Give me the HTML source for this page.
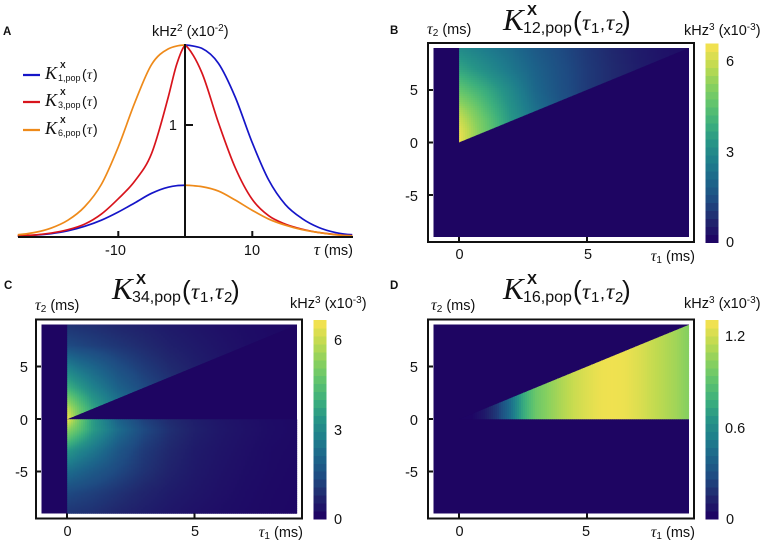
<!DOCTYPE html>
<html lang="en">
<head>
<meta charset="utf-8">
<title>Population cumulants</title>
<style>
html,body{margin:0;padding:0;background:#fff;}
#fig{display:block;font-size:14.5px;}
text{font-family:"Liberation Sans",sans-serif;fill:#111;}
.serif{font-family:"Liberation Serif","DejaVu Serif",serif;font-style:italic;}
.letter{font-weight:bold;font-size:11.5px;}
.frame{fill:none;stroke:#111;stroke-width:2;}
.tick{stroke:#111;stroke-width:2;}
</style>
</head>
<body>
<svg id="fig" width="764" height="542" viewBox="0 0 764 542" xmlns="http://www.w3.org/2000/svg">
  <rect width="764" height="542" fill="#fff"/>
  <defs id="clipDefs"></defs>

  <!-- Panel A -->
  <g id="panelA">
    <text class="letter" x="3" y="35">A</text>
    <text x="152" y="36">kHz<tspan dy="-5" font-size="10">2</tspan><tspan dy="5"> (x10</tspan><tspan dy="-5" font-size="10">-2</tspan><tspan dy="5">)</tspan></text>
    <g id="curvesA"></g>
    <line class="tick" x1="18" x2="353" y1="237" y2="237"/>
    <line class="tick" x1="185" x2="185" y1="44" y2="238"/>
    <line class="tick" x1="118.3" x2="118.3" y1="231" y2="237"/>
    <line class="tick" x1="252.3" x2="252.3" y1="231" y2="237"/>
    <line class="tick" x1="185" x2="193" y1="125" y2="125"/>
    <text x="177" y="130" text-anchor="end">1</text>
    <text x="115.5" y="255" text-anchor="middle">-10</text>
    <text x="252" y="255" text-anchor="middle">10</text>
    <text x="353" y="255" text-anchor="end"><tspan class="serif" font-size="17">τ</tspan> (ms)</text>
    <g>
      <line x1="23" x2="40" y1="75" y2="75" stroke="#1515c8" stroke-width="2.2"/>
      <line x1="23" x2="40" y1="102" y2="102" stroke="#d8141c" stroke-width="2.2"/>
      <line x1="23" x2="40" y1="130" y2="130" stroke="#ee8a1a" stroke-width="2.2"/>
      <g transform="translate(45,79)">
        <text class="serif" font-size="18" y="0">K</text><text font-weight="bold" font-size="8.5" x="15" y="-11">X</text><text font-size="9" x="13" y="2">1,pop</text><text font-size="14" x="37" y="0">(</text><text class="serif" font-size="14" x="42" y="0">τ</text><text font-size="14" x="48" y="0">)</text>
      </g>
      <g transform="translate(45,106)">
        <text class="serif" font-size="18" y="0">K</text><text font-weight="bold" font-size="8.5" x="15" y="-11">X</text><text font-size="9" x="13" y="2">3,pop</text><text font-size="14" x="37" y="0">(</text><text class="serif" font-size="14" x="42" y="0">τ</text><text font-size="14" x="48" y="0">)</text>
      </g>
      <g transform="translate(45,134)">
        <text class="serif" font-size="18" y="0">K</text><text font-weight="bold" font-size="8.5" x="15" y="-11">X</text><text font-size="9" x="13" y="2">6,pop</text><text font-size="14" x="37" y="0">(</text><text class="serif" font-size="14" x="42" y="0">τ</text><text font-size="14" x="48" y="0">)</text>
      </g>
    </g>
  </g>

  <!-- Panel B -->
  <g>
    <text class="letter" x="390" y="34">B</text>
    <g>
      <text class="serif" font-size="31" x="503" y="30">K</text>
      <text font-weight="bold" font-size="15" x="527" y="15">X</text>
      <text font-size="16" x="523" y="33">12,pop</text>
      <text font-size="26" x="573" y="30">(</text>
      <text class="serif" font-size="23" x="582" y="30">τ</text><text font-size="15" x="591" y="33">1</text>
      <text font-size="18" x="600" y="30">,</text>
      <text class="serif" font-size="23" x="606" y="30">τ</text><text font-size="15" x="615" y="33">2</text>
      <text font-size="26" x="622" y="30">)</text>
    </g>
    <text x="427" y="34"><tspan class="serif" font-size="16">τ</tspan><tspan font-size="10" dy="2">2</tspan><tspan dy="-2"> (ms)</tspan></text>
    <text x="684" y="35">kHz<tspan dy="-5" font-size="10">3</tspan><tspan dy="5"> (x10</tspan><tspan dy="-5" font-size="10">-3</tspan><tspan dy="5">)</tspan></text>
    <rect x="433.5" y="48" width="255.5" height="189" fill="#1e0562"/>
    <g id="heatB" shape-rendering="crispEdges"></g>
    <rect class="frame" x="428" y="43" width="266" height="199"/>
    <line class="tick" x1="459" x2="459" y1="237" y2="242"/>
    <line class="tick" x1="587" x2="587" y1="237" y2="242"/>
    <line class="tick" x1="428" x2="433" y1="90" y2="90"/>
    <line class="tick" x1="428" x2="433" y1="142.5" y2="142.5"/>
    <line class="tick" x1="428" x2="433" y1="195" y2="195"/>
    <text x="418" y="95" text-anchor="end">5</text>
    <text x="418" y="148" text-anchor="end">0</text>
    <text x="418" y="201" text-anchor="end">-5</text>
    <text x="459.5" y="259" text-anchor="middle">0</text>
    <text x="588" y="259" text-anchor="middle">5</text>
    <text x="695" y="261" text-anchor="end"><tspan class="serif" font-size="16">τ</tspan><tspan font-size="10" dy="2">1</tspan><tspan dy="-2"> (ms)</tspan></text>
    <g id="barB" shape-rendering="crispEdges"></g>
    <text x="726" y="66">6</text>
    <text x="726" y="157">3</text>
    <text x="726" y="247">0</text>
  </g>

  <!-- Panel C -->
  <g>
    <text class="letter" x="4" y="289">C</text>
    <g transform="translate(-391,269)">
      <text class="serif" font-size="31" x="503" y="30">K</text>
      <text font-weight="bold" font-size="15" x="527" y="15">X</text>
      <text font-size="16" x="523" y="33">34,pop</text>
      <text font-size="26" x="573" y="30">(</text>
      <text class="serif" font-size="23" x="582" y="30">τ</text><text font-size="15" x="591" y="33">1</text>
      <text font-size="18" x="600" y="30">,</text>
      <text class="serif" font-size="23" x="606" y="30">τ</text><text font-size="15" x="615" y="33">2</text>
      <text font-size="26" x="622" y="30">)</text>
    </g>
    <text x="35" y="310"><tspan class="serif" font-size="16">τ</tspan><tspan font-size="10" dy="2">2</tspan><tspan dy="-2"> (ms)</tspan></text>
    <text x="290" y="308">kHz<tspan dy="-5" font-size="10">3</tspan><tspan dy="5"> (x10</tspan><tspan dy="-5" font-size="10">-3</tspan><tspan dy="5">)</tspan></text>
    <rect x="41.5" y="324.5" width="255.5" height="189" fill="#1e0562"/>
    <g id="heatC" shape-rendering="crispEdges"></g>
    <rect class="frame" x="36" y="319.5" width="266" height="199"/>
    <line class="tick" x1="67" x2="67" y1="513.5" y2="518.5"/>
    <line class="tick" x1="194.5" x2="194.5" y1="513.5" y2="518.5"/>
    <line class="tick" x1="36" x2="41" y1="366.5" y2="366.5"/>
    <line class="tick" x1="36" x2="41" y1="419" y2="419"/>
    <line class="tick" x1="36" x2="41" y1="471.5" y2="471.5"/>
    <text x="28" y="372" text-anchor="end">5</text>
    <text x="28" y="425" text-anchor="end">0</text>
    <text x="28" y="477" text-anchor="end">-5</text>
    <text x="67.5" y="536" text-anchor="middle">0</text>
    <text x="195" y="536" text-anchor="middle">5</text>
    <text x="303" y="537" text-anchor="end"><tspan class="serif" font-size="16">τ</tspan><tspan font-size="10" dy="2">1</tspan><tspan dy="-2"> (ms)</tspan></text>
    <g id="barC" shape-rendering="crispEdges"></g>
    <text x="334" y="345">6</text>
    <text x="334" y="435">3</text>
    <text x="334" y="524">0</text>
  </g>

  <!-- Panel D -->
  <g>
    <text class="letter" x="390" y="289">D</text>
    <g transform="translate(0,269)">
      <text class="serif" font-size="31" x="503" y="30">K</text>
      <text font-weight="bold" font-size="15" x="527" y="15">X</text>
      <text font-size="16" x="523" y="33">16,pop</text>
      <text font-size="26" x="573" y="30">(</text>
      <text class="serif" font-size="23" x="582" y="30">τ</text><text font-size="15" x="591" y="33">1</text>
      <text font-size="18" x="600" y="30">,</text>
      <text class="serif" font-size="23" x="606" y="30">τ</text><text font-size="15" x="615" y="33">2</text>
      <text font-size="26" x="622" y="30">)</text>
    </g>
    <text x="431" y="310"><tspan class="serif" font-size="16">τ</tspan><tspan font-size="10" dy="2">2</tspan><tspan dy="-2"> (ms)</tspan></text>
    <text x="684" y="308">kHz<tspan dy="-5" font-size="10">3</tspan><tspan dy="5"> (x10</tspan><tspan dy="-5" font-size="10">-3</tspan><tspan dy="5">)</tspan></text>
    <rect x="433.5" y="324.5" width="255.5" height="189" fill="#1e0562"/>
    <g id="heatD" shape-rendering="crispEdges"></g>
    <rect class="frame" x="428" y="319.5" width="266" height="199"/>
    <line class="tick" x1="459" x2="459" y1="513.5" y2="518.5"/>
    <line class="tick" x1="587" x2="587" y1="513.5" y2="518.5"/>
    <line class="tick" x1="428" x2="433" y1="366.5" y2="366.5"/>
    <line class="tick" x1="428" x2="433" y1="419" y2="419"/>
    <line class="tick" x1="428" x2="433" y1="471.5" y2="471.5"/>
    <text x="418" y="372" text-anchor="end">5</text>
    <text x="418" y="425" text-anchor="end">0</text>
    <text x="418" y="477" text-anchor="end">-5</text>
    <text x="459.5" y="536" text-anchor="middle">0</text>
    <text x="586" y="536" text-anchor="middle">5</text>
    <text x="695" y="537" text-anchor="end"><tspan class="serif" font-size="16">τ</tspan><tspan font-size="10" dy="2">1</tspan><tspan dy="-2"> (ms)</tspan></text>
    <g id="barD" shape-rendering="crispEdges"></g>
    <text x="725" y="341">1.2</text>
    <text x="725" y="433">0.6</text>
    <text x="726" y="524">0</text>
  </g>
</svg>
<script>
/* ---------- Panel A data (units of 1e-2 kHz^2) ---------- */
var tauLeft = [-25,-22.5,-20,-17.5,-15,-12.5,-10,-7.5,-5,-2.5,-1.25,0];
var tauRight = [0,1.25,2.5,5,7.5,10,12.5,15,17.5,20,22.5,25];
var blueLeft = [0.008,0.016,0.03,0.055,0.095,0.15,0.222,0.305,0.39,0.445,0.458,0.462];
var blueRight = [1.714,1.705,1.685,1.55,1.25,0.85,0.51,0.29,0.165,0.085,0.04,0.02];
var redLeft = [0.01,0.018,0.035,0.065,0.115,0.205,0.34,0.5,0.745,1.25,1.54,1.714];
var redRight = [1.714,1.62,1.47,1.02,0.62,0.34,0.19,0.115,0.07,0.04,0.022,0.012];
var orangeLeft = [0.02,0.04,0.08,0.15,0.27,0.47,0.8,1.2,1.54,1.68,1.705,1.714];
var orangeRight = [0.462,0.458,0.45,0.41,0.33,0.24,0.16,0.105,0.065,0.04,0.02,0.01];

/* ---------- Panel B data ---------- */
var bTau1 = [0,0.5,1,2,3,4,5,6,7,8,9];
var bTau2 = [0,1,2,3,5,7,9];
var bValues = [
  [6.6,5.6,4.6,3.2,2.2,1.5,1.0,0.7,0.45,0.3,0.15],
  [6.5,5.7,4.9,3.5,2.4,1.6,1.1,0.75,0.48,0.3,0.15],
  [6.2,5.5,4.8,3.4,2.4,1.6,1.1,0.75,0.48,0.3,0.15],
  [5.8,5.2,4.5,3.3,2.3,1.55,1.05,0.72,0.46,0.3,0.15],
  [4.7,4.3,3.9,3.0,2.05,1.45,1.0,0.7,0.45,0.28,0.15],
  [3.7,3.4,3.1,2.5,1.9,1.4,1.0,0.7,0.45,0.27,0.15],
  [3.0,2.8,2.6,2.2,1.7,1.3,0.95,0.65,0.42,0.25,0.15]
];

/* ---------- Panel C data ---------- */
var cTau1 = [0,0.5,1,2,3,4,5,6,7,8,9];
var cTau2 = [-9,-7,-5,-3,-1,0,1,2,3,5,7,9];
var cValues = [
  [0.9,0.85,0.8,0.6,0.45,0.32,0.22,0.15,0.1,0.06,0.03],
  [1.3,1.2,1.1,0.85,0.6,0.42,0.3,0.2,0.12,0.07,0.04],
  [2.2,1.95,1.7,1.25,0.85,0.55,0.36,0.24,0.15,0.09,0.05],
  [3.4,2.9,2.5,1.6,1.0,0.65,0.4,0.28,0.18,0.1,0.07],
  [5.4,4.5,3.5,2.2,1.3,0.8,0.5,0.33,0.22,0.13,0.08],
  [6.6,4.9,3.5,1.9,1.1,0.7,0.45,0.3,0.2,0.12,0.08],
  [6.0,4.7,3.7,2.4,1.6,1.1,0.7,0.45,0.3,0.2,0.12],
  [5.0,4.1,3.3,2.2,1.6,1.1,0.7,0.45,0.3,0.2,0.12],
  [4.0,3.4,2.8,1.9,1.3,0.9,0.6,0.4,0.28,0.18,0.1],
  [2.7,2.3,2.0,1.4,1.0,0.7,0.48,0.32,0.2,0.13,0.08],
  [1.3,1.2,1.1,0.9,0.7,0.5,0.38,0.26,0.16,0.1,0.06],
  [0.85,0.8,0.75,0.6,0.5,0.38,0.28,0.2,0.13,0.08,0.05]
];

/* ---------- Panel D data ---------- */
var dTau1 = [0,0.5,1,1.5,2,2.5,3,3.5,4,4.5,5,5.5,6,6.5,7,7.5,8,8.5,9];
var dTau2 = [0,9];
var dProfile = [0,0,0.07,0.2,0.43,0.75,0.95,1.05,1.13,1.2,1.25,1.29,1.3,1.29,1.25,1.2,1.15,1.1,1.03];
var dValues = [dProfile,dProfile];

/* ---------- Colour scale ---------- */
var cmapPos = [0,0.1,0.2,0.3,0.4,0.5,0.6,0.7,0.8,0.9,1];
var cmapR = [30,32,30,28,30,38,60,95,135,190,240];
var cmapG = [5,40,75,100,125,148,175,195,208,218,225];
var cmapB = [100,110,130,138,140,135,125,110,95,80,80];

var SVGNS = 'http://www.w3.org/2000/svg';
function colorAt(f){
  f = Math.max(0,Math.min(1,f));
  var i = Math.min(cmapPos.length-2,Math.floor(f*(cmapPos.length-1)));
  var t = (f-cmapPos[i])/(cmapPos[i+1]-cmapPos[i]);
  var r = cmapR[i]+(cmapR[i+1]-cmapR[i])*t;
  var g = cmapG[i]+(cmapG[i+1]-cmapG[i])*t;
  var b = cmapB[i]+(cmapB[i+1]-cmapB[i])*t;
  return 'rgb('+Math.round(r)+','+Math.round(g)+','+Math.round(b)+')';
}

/* ---------- Panel A drawing ---------- */
function xA(t){return 185+6.69*t;}
function yA(v){return 237-112*v;}
function smoothPath(xs,ys){
  var n=xs.length,i,d=[],m=[];
  for(i=0;i<n-1;i++){d[i]=(ys[i+1]-ys[i])/(xs[i+1]-xs[i]);}
  m[0]=d[0]*0.5;m[n-1]=d[n-2]*0.5;
  for(i=1;i<n-1;i++){
    var h0=xs[i]-xs[i-1],h1=xs[i+1]-xs[i];
    m[i]=d[i-1]*d[i]<=0?0:(d[i-1]*h1+d[i]*h0)/(h0+h1);
  }
  var p='M'+xs[0].toFixed(2)+' '+ys[0].toFixed(2);
  for(i=0;i<n-1;i++){
    var h=(xs[i+1]-xs[i])/3;
    p+='C'+(xs[i]+h).toFixed(2)+' '+(ys[i]+m[i]*h).toFixed(2)+' '+(xs[i+1]-h).toFixed(2)+' '+(ys[i+1]-m[i+1]*h).toFixed(2)+' '+xs[i+1].toFixed(2)+' '+ys[i+1].toFixed(2);
  }
  return p;
}
function addCurve(taus,vals,color,name){
  var path=document.createElementNS(SVGNS,'path');
  path.setAttribute('d',smoothPath(taus.map(xA),vals.map(yA)));
  path.setAttribute('fill','none');
  path.setAttribute('stroke',color);
  path.setAttribute('stroke-width','1.7');
  
  
  document.getElementById('curvesA').appendChild(path);
}
addCurve(tauLeft,blueLeft,'#1515c8','curve-1-left');
addCurve(tauRight,blueRight,'#1515c8','curve-1-right');
addCurve(tauLeft,redLeft,'#d8141c','curve-3-left');
addCurve(tauRight,redRight,'#d8141c','curve-3-right');
addCurve(tauLeft,orangeLeft,'#ee8a1a','curve-6-left');
addCurve(tauRight,orangeRight,'#ee8a1a','curve-6-right');

/* ---------- Heatmap drawing ---------- */
var SX=25.55,SY=10.5;
function locate(arr,v){
  var i=0;
  while(i<arr.length-2&&v>arr[i+1]){i++;}
  var t=(v-arr[i])/(arr[i+1]-arr[i]);
  return [i,Math.max(0,Math.min(1,t))];
}
function sample(xs,ys,grid,a,b){
  var p=locate(xs,a),q=locate(ys,b);
  var r0=grid[q[0]],r1=grid[q[0]+1];
  var top=r0[p[0]]+(r0[p[0]+1]-r0[p[0]])*p[1];
  var bot=r1[p[0]]+(r1[p[0]+1]-r1[p[0]])*p[1];
  return top+(bot-top)*q[1];
}
function addClip(id,x0,y0,polys){
  var cp=document.createElementNS(SVGNS,'clipPath');
  cp.setAttribute('id',id);
  polys.forEach(function(poly){
    var el=document.createElementNS(SVGNS,'polygon');
    el.setAttribute('points',poly.map(function(q){return (x0+q[0]*SX).toFixed(2)+','+(y0-q[1]*SY).toFixed(2);}).join(' '));
    cp.appendChild(el);
  });
  document.getElementById('clipDefs').appendChild(cp);
}
function drawHeat(id,x0,y0,xs,ys,grid,vmax,polys,inside,name){
  var g=document.getElementById(id);
  addClip(id+'Clip',x0,y0,polys);
  g.setAttribute('clip-path','url(#'+id+'Clip)');
  var step=2;
  for(var py=y0-9*SY;py<y0+9*SY;py+=step){
    for(var px=x0;px<x0+9*SX;px+=step){
      var a=(px+step/2-x0)/SX,b=(y0-py-step/2)/SY;
      if(!inside(a,b)){continue;}
      var v=sample(xs,ys,grid,Math.max(0,a),b);
      var r=document.createElementNS(SVGNS,'rect');
      r.setAttribute('x',px.toFixed(1));
      r.setAttribute('y',py.toFixed(1));
      r.setAttribute('width',step+0.4);
      r.setAttribute('height',step+0.4);
      r.setAttribute('fill',colorAt(v/vmax));
      
      
      g.appendChild(r);
    }
  }
}
function drawBar(id,x,y,w,h,name){
  var g=document.getElementById(id),levels=25;
  for(var i=0;i<levels;i++){
    var r=document.createElementNS(SVGNS,'rect');
    r.setAttribute('x',x);
    r.setAttribute('y',(y+h-(i+1)*h/levels).toFixed(2));
    r.setAttribute('width',w);
    r.setAttribute('height',(h/levels+0.5).toFixed(2));
    r.setAttribute('fill',colorAt(i/(levels-1)));
    
    
    g.appendChild(r);
  }
}
drawHeat('heatB',459.1,142.4,bTau1,bTau2,bValues,6.6,[[[0,0],[9,9],[0,9]]],function(a,b){return b>=a-0.4;},'heatmap-cell-b');
drawHeat('heatC',67.2,419.2,cTau1,cTau2,cValues,6.6,[[[0,0],[9,9],[0,9]],[[0,0],[9,0],[9,-9],[0,-9]]],function(a,b){return b>=a-0.4||b<0.3;},'heatmap-cell-c');
drawHeat('heatD',459.1,419.2,dTau1,dTau2,dValues,1.3,[[[0,0],[9,9],[9,0]]],function(a,b){return b<=a+0.4&&b>=-0.3;},'heatmap-cell-d');
drawBar('barB',705.5,43.5,13,199,'colorbar-level-b');
drawBar('barC',313.5,320,13,199,'colorbar-level-c');
drawBar('barD',705.5,320,13,199,'colorbar-level-d');
</script>
</body>
</html>
